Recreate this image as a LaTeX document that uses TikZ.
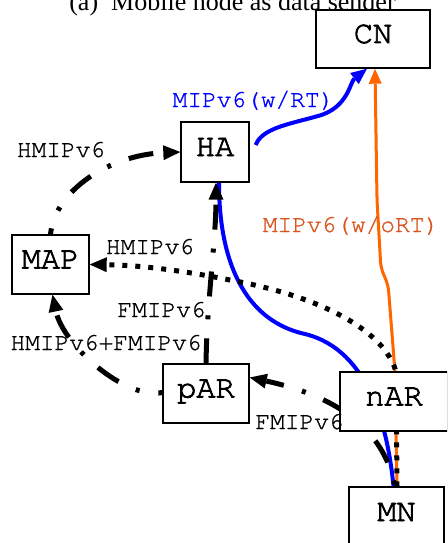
\documentclass[tikz,border=0pt]{standalone}
\usepackage{fontspec}
\setmainfont{Liberation Serif}
\setmonofont{TeX Gyre Cursor}
\newfontfamily\boxfont{TeX Gyre Cursor}[FakeBold=2.2]
\newfontfamily\lblfont{TeX Gyre Cursor}[FakeBold=1]
\usetikzlibrary{arrows.meta}
\definecolor{myorange}{RGB}{255,102,0}
\definecolor{lblorange}{RGB}{217,84,30}
\pgfdeclarelayer{lines}
\pgfsetlayers{lines,main}
\begin{document}
\begin{tikzpicture}[x=1pt,y=-1pt,
  box/.style={draw, line width=1.4pt, fill=white, inner sep=0pt,
    font=\boxfont\fontsize{32}{32}\selectfont, text height=18pt, text depth=10pt},
  lbl/.style={font=\lblfont\fontsize{24.5}{24.5}\selectfont, inner sep=0pt, anchor=base},
  dashdot/.style={line width=5pt, dash pattern=on 25pt off 19pt on 4pt off 19pt},
  dotline/.style={line width=5pt, dash pattern=on 5pt off 8pt},
  blk/.style={-{Triangle[length=17pt,width=15pt,line width=0pt]}},
  data/.style={line width=4pt}
]
\useasboundingbox (0,0) rectangle (447,543);
\clip (0,0) rectangle (447,543);

% title
\node[font=\fontsize{26}{26}\selectfont, inner sep=0pt, anchor=base] (title) at (232.5,10.5) {(a)~~Mobile node as data sender};

% boxes
\node[box, minimum width=114pt, minimum height=58pt] (CN) at (373,39) {CN};
\node[box, minimum width=68pt, minimum height=60pt] (HA) at (215,152) {HA};
\node[box, minimum width=77pt, minimum height=59pt] (MAP) at (50.5,264.5) {MAP};
\node[box, minimum width=86pt, minimum height=59pt] (pAR) at (206,393.5) {pAR};
\node[box, minimum width=108pt, minimum height=59pt] (nAR) at (394,401.5) {nAR};
\node[box, minimum width=95pt, minimum height=60pt] (MN) at (396.5,517) {MN};

% labels
\node[lbl, text=blue] (l1) at (253.5,107) {MIPv6(w/RT)};
\node[lbl, text=lblorange] (l2) at (351,232) {MIPv6(w/oRT)};
\node[lbl] (l3) at (61,157) {HMIPv6};
\node[lbl] (l4) at (150,254) {HMIPv6};
\node[lbl] (l5) at (161.5,317) {FMIPv6};
\node[lbl] (l6) at (106,350) {HMIPv6+FMIPv6};
\node[lbl] (l7) at (299.5,429) {FMIPv6};

\begin{pgfonlayer}{lines}
% blue data paths
\draw[data, blue, -{Triangle[length=16pt,width=14pt,line width=0pt]}]
  ([shift={(6,-7)}]HA.east) .. controls (262,128) and (290,124) .. (318,116)
  .. controls (348,108) and (350,82) .. ([xshift=-6]CN.south);
\draw[data, blue]
  ([xshift=-3]MN.north) .. controls (388,430) and (370,350) .. (305,334)
  .. controls (250,322) and (219,270) .. ([xshift=4]HA.south);

% orange data path
\draw[line width=3pt, myorange, rounded corners=8pt, -{Triangle[length=15pt,width=13pt,line width=0pt]}]
  ([xshift=0.5]MN.north) -- (395,372) -- (388,283) -- (381,270) -- (377,200) -- ([xshift=2]CN.south);

% dotted HMIPv6 nAR -> MAP
\draw[dotline, blk]
  ([xshift=0.5]MN.north) -- (396,372) .. controls (388,340) and (340,300) .. (230,280)
  .. controls (170,268) and (130,265) .. (MAP.east);

% dash-dot signalling
\draw[dashdot, dash phase=19pt, blk]
  (MAP.north) .. controls (55,190) and (110,155) .. (HA.west);
\draw[dashdot, blk]
  (pAR.north) .. controls (207,300) and (216,240) .. ([xshift=1]HA.south);
\draw[dashdot, dash phase=21pt, blk]
  ([yshift=1]pAR.west) .. controls (125,400) and (63,345) .. ([xshift=2]MAP.south);
\draw[dashdot, dash phase=42pt, blk]
  ([xshift=-1.5]MN.north) .. controls (385,435) and (345,398) .. ([yshift=16]pAR.east);
\end{pgfonlayer}
\end{tikzpicture}
\end{document}
